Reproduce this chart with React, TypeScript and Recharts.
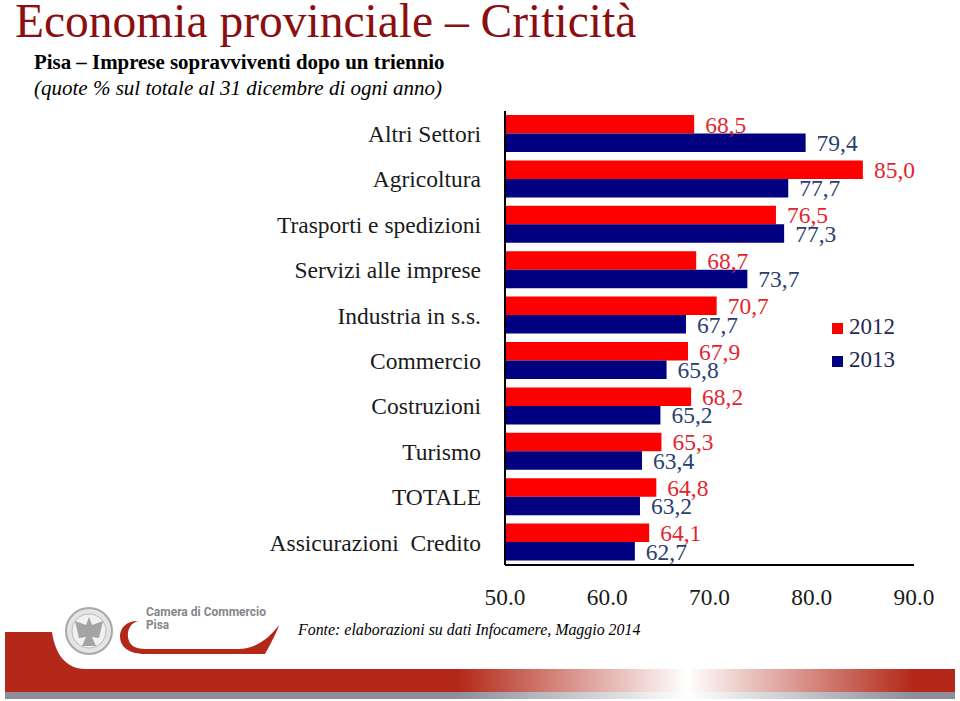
import { Bar, BarChart, LabelList, Legend, XAxis, YAxis } from "recharts";

const categories = [
  "Altri Settori",
  "Agricoltura",
  "Trasporti e spedizioni",
  "Servizi alle imprese",
  "Industria in s.s.",
  "Commercio",
  "Costruzioni",
  "Turismo",
  "TOTALE",
  "Assicurazioni\u00a0\u00a0Credito",
];
const values2012 = [68.5, 85.0, 76.5, 68.7, 70.7, 67.9, 68.2, 65.3, 64.8, 64.1];
const values2013 = [79.4, 77.7, 77.3, 73.7, 67.7, 65.8, 65.2, 63.4, 63.2, 62.7];
const xTicks = [50, 60, 70, 80, 90];

const chartData = categories.map((name, i) => ({
  name,
  "2012": values2012[i],
  "2013": values2013[i],
}));

const serif = "'Liberation Serif', serif";
const formatLabel = (v: any) => Number(v).toFixed(1).replace(".", ",");

function PageArt() {
  return (
    <svg width={960} height={701} style={{ position: "absolute", left: 0, top: 0 }}>
      <defs>
        <linearGradient id="band" x1="0" y1="0" x2="1" y2="0">
          <stop offset="0.476" stopColor="#b32818" />
          <stop offset="0.718" stopColor="#ffffff" />
          <stop offset="0.956" stopColor="#b32818" />
        </linearGradient>
        <linearGradient id="bandGray" x1="0" y1="0" x2="1" y2="0">
          <stop offset="0.476" stopColor="#8c8f9a" />
          <stop offset="0.718" stopColor="#ffffff" />
          <stop offset="0.956" stopColor="#8c8f9a" />
        </linearGradient>
      </defs>
      <rect x={5} y={669} width={950} height={23} fill="url(#band)" />
      <rect x={5} y={692} width={950} height={7} fill="url(#bandGray)" />
      <path d="M5 632 H52 C55 654 66 669 85 669 V670 H5 Z" fill="#b32818" />
      <path
        d="M139 621 C131 622 127 630 128 637 C129 645 134 649 146 649 H238 C254 649 268 640 279 625 C277 632 270 645 265 654 H146 C130 654 120 648 120 636 C120 627 128 620 139 621 Z"
        fill="#b32818"
      />
      <circle cx={89} cy={631} r={23} fill="#e4e4e4" stroke="#a8a8a8" strokeWidth={2} />
      <circle cx={89} cy={631} r={17} fill="#f1f1f1" stroke="#b8b8b8" />
      <path d="M89 617 L92 625 L103 621 L99 638 L92 637 L96 646 H82 L86 637 L79 638 L75 621 L86 625 Z" fill="#a4a4a4" />
      <text
        x={146}
        y={616}
        fontFamily="'Roboto', sans-serif"
        fontWeight={700}
        fontSize={13}
        fill="#84868a"
        textLength={120}
        lengthAdjust="spacingAndGlyphs"
      >
        Camera di Commercio
      </text>
      <text
        x={146}
        y={629}
        fontFamily="'Roboto', sans-serif"
        fontWeight={700}
        fontSize={13}
        fill="#84868a"
        textLength={23}
        lengthAdjust="spacingAndGlyphs"
      >
        Pisa
      </text>
    </svg>
  );
}

function PageText() {
  const line = { position: "absolute", whiteSpace: "nowrap", fontFamily: serif } as const;
  return (
    <>
      <div style={{ ...line, left: 15, top: 0, fontSize: 47.5, lineHeight: "42px", color: "#8a0f10" }}>
        Economia provinciale – Criticità
      </div>
      <div style={{ ...line, left: 34, top: 51, fontSize: 20.9, lineHeight: "23px", fontWeight: 700, color: "#000" }}>
        Pisa – Imprese sopravviventi dopo un triennio
      </div>
      <div style={{ ...line, left: 34, top: 77, fontSize: 21, lineHeight: "23px", fontStyle: "italic", color: "#000" }}>
        (quote % sul totale al 31 dicembre di ogni anno)
      </div>
      <div style={{ ...line, left: 298, top: 620, fontSize: 15.9, lineHeight: "20px", fontStyle: "italic", color: "#000" }}>
        Fonte: elaborazioni su dati Infocamere, Maggio 2014
      </div>
    </>
  );
}

export default function App() {
  return (
    <div style={{ position: "absolute", left: 0, top: 0, width: 960, height: 701, background: "#fff", overflow: "hidden" }}>
      <PageArt />
      <div style={{ position: "absolute", left: 0, top: 0 }}>
        <BarChart
          width={960}
          height={701}
          data={chartData}
          layout="vertical"
          margin={{ top: 111, right: 46, bottom: 96, left: 0 }}
          barGap={0}
          barSize={18.5}
        >
          <XAxis
            type="number"
            domain={[50, 90]}
            ticks={xTicks}
            allowDataOverflow
            tickLine={false}
            axisLine={{ stroke: "#000", strokeWidth: 2 }}
            tickFormatter={(v: number) => v.toFixed(1)}
            tick={{ fill: "#1a1a1a", fontSize: 23.3, fontFamily: serif }}
            tickMargin={17}
            height={40}
            interval={0}
          />
          {/* the vertical legend takes 90px from the left, so 415 + 90 puts the axis at x=505 */}
          <YAxis
            type="category"
            dataKey="name"
            width={415}
            interval={0}
            tickLine={false}
            axisLine={{ stroke: "#000", strokeWidth: 2 }}
            tick={{ fill: "#1a1a1a", fontSize: 23.5, fontFamily: serif }}
            tickMargin={18}
          />
          <Legend
            layout="vertical"
            align="left"
            verticalAlign="top"
            iconType="square"
            iconSize={11}
            itemSorter={null}
            wrapperStyle={{ left: 832, top: 310, width: 90, lineHeight: "33px", fontFamily: serif, fontSize: 23 }}
            formatter={(value: string) => <span style={{ color: "#1f2a55", marginLeft: 2 }}>{value}</span>}
          />
          <Bar dataKey="2012" fill="#ff0000" isAnimationActive={false}>
            <LabelList
              dataKey="2012"
              position="right"
              offset={11}
              formatter={formatLabel}
              style={{ fill: "#e3262e", fontSize: 23.5, fontFamily: serif }}
            />
          </Bar>
          <Bar dataKey="2013" fill="#000080" isAnimationActive={false}>
            <LabelList
              dataKey="2013"
              position="right"
              offset={11}
              formatter={formatLabel}
              style={{ fill: "#2a3f6f", fontSize: 23.5, fontFamily: serif }}
            />
          </Bar>
        </BarChart>
      </div>
      <PageText />
    </div>
  );
}
